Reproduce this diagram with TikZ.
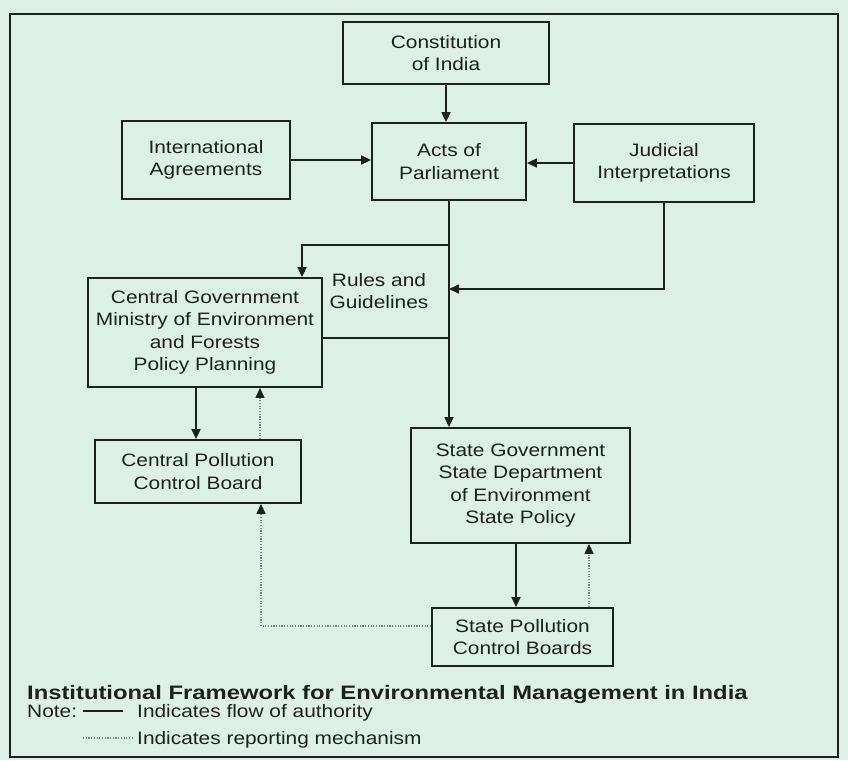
\documentclass[tikz,border=0pt]{standalone}
\usepackage{fontspec}
\usetikzlibrary{arrows.meta}
\newfontfamily\boxfont[FakeStretch=1.16]{Liberation Sans}
\newfontfamily\titlefont[FakeStretch=1.22]{Liberation Sans Bold}
\definecolor{paper}{RGB}{221,240,231}
\definecolor{ink}{RGB}{30,32,30}
\definecolor{dotgray}{RGB}{120,128,124}
\tikzset{
  box/.style={draw=ink, line width=1.8pt, align=center, inner sep=0pt,
    text=ink, font=\boxfont\fontsize{18}{22.5}\selectfont},
  flow/.style={draw=ink, line width=1.6pt, -{Triangle[length=10pt,width=9pt]}},
  plainflow/.style={draw=ink, line width=1.6pt},
  report/.style={draw=dotgray, line width=1.2pt, dash pattern=on 1.2pt off 1.5pt},
  reportarrow/.style={report, -{Triangle[length=10pt,width=9pt,color=ink]}},
  label/.style={inner sep=0pt, text=ink, anchor=base west,
    font=\boxfont\fontsize{18}{22.5}\selectfont},
}
\begin{document}
\begin{tikzpicture}[x=1pt, y=-1pt]
  % page and outer frame
  \fill[paper] (0,0) rectangle (848,760);
  \useasboundingbox (0,0) rectangle (848,760);
  \draw[ink, line width=2.4pt] (10,14) rectangle (838,757);

  % institutions
  \node[box, minimum width=206pt, minimum height=62pt] (const) at (446,53) {Constitution\\of India};
  \node[box, minimum width=154pt, minimum height=77pt] (acts) at (449,161.5) {Acts of\\Parliament};
  \node[box, minimum width=168pt, minimum height=78pt] (intl) at (206,160) {International\\Agreements};
  \node[box, minimum width=180pt, minimum height=78pt] (jud) at (664,163) {Judicial\\Interpretations};
  \node[box, minimum width=234pt, minimum height=109pt] (central) at (205,332.5)
    {Central Government\\Ministry of Environment\\and Forests\\Policy Planning};
  \node[box, minimum width=206pt, minimum height=63pt] (cpcb) at (198,471.5) {Central Pollution\\Control Board};
  \node[box, minimum width=219pt, minimum height=115pt] (state) at (520.5,485.5)
    {State Government\\State Department\\of Environment\\State Policy};
  \node[box, minimum width=181pt, minimum height=58pt] (spcb) at (522.5,637) {State Pollution\\Control Boards};
  \node[inner sep=0pt, align=center, text=ink, font=\boxfont\fontsize{18}{22.5}\selectfont]
    (rules) at (379,291) {Rules and\\Guidelines};

  % routing points
  \coordinate (branch) at (302,245);
  \coordinate (judturn) at (664,289);
  \coordinate (join) at (449,338);
  \coordinate (cdown) at (196,0);
  \coordinate (cup) at (260,0);
  \coordinate (sdown) at (516,0);
  \coordinate (sup) at (589,0);
  \coordinate (sideturn) at (261,626);

  % flow of authority
  \draw[flow] (const.south) -- (const.south |- acts.north);
  \draw[flow] (intl.east) -- (intl.east -| acts.west);
  \draw[flow] (jud.west) -- (jud.west -| acts.east);
  \draw[flow] (acts.south) -- (acts.south |- state.north);
  \draw[flow] (acts.south |- branch) -- (branch) -- (branch |- central.north);
  \draw[flow] (jud.south) -- (judturn) -- (judturn -| acts.south);
  \draw[plainflow] (join -| central.east) -- (join);
  \draw[flow] (cdown |- central.south) -- (cdown |- cpcb.north);
  \draw[flow] (sdown |- state.south) -- (sdown |- spcb.north);

  % reporting mechanism
  \draw[reportarrow] (cup |- cpcb.north) -- (cup |- central.south);
  \draw[reportarrow] (sup |- spcb.north) -- (sup |- state.south);
  \draw[reportarrow] (sideturn -| spcb.west) -- (sideturn) -- (sideturn |- cpcb.south);

  % caption and key
  \node[inner sep=0pt, anchor=base west, text=ink, font=\titlefont\fontsize{19.5}{23}\selectfont]
    (title) at (27,699) {Institutional Framework for Environmental Management in India};
  \node[label] (note) at (27,717) {Note:};
  \coordinate (keyA) at (83,711);
  \coordinate (keyB) at (123,711);
  \draw[plainflow, line width=1.2pt] (keyA) -- (keyB);
  \node[label] (keyflow) at (137,717) {Indicates flow of authority};
  \coordinate (keyC) at (83,738);
  \coordinate (keyD) at (133,738);
  \draw[report] (keyC) -- (keyD);
  \node[label] (keyreport) at (137,744) {Indicates reporting mechanism};
\end{tikzpicture}
\end{document}
